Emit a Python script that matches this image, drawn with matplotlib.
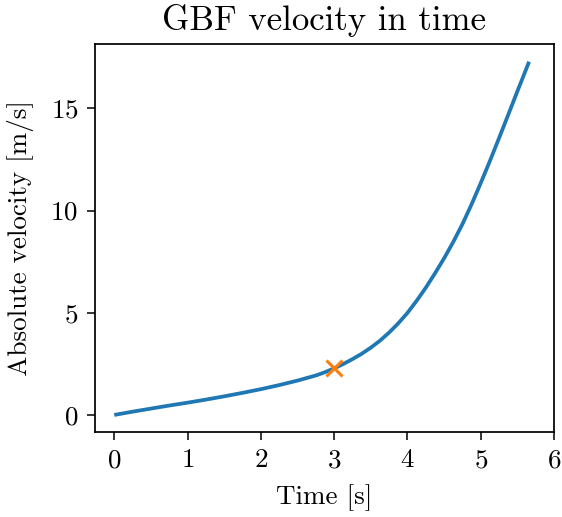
import matplotlib
matplotlib.use("Agg")
import matplotlib.pyplot as plt

plt.rcParams['font.family'] = 'serif'
plt.rcParams['font.serif'] = ['cmr10']
plt.rcParams['mathtext.fontset'] = 'cm'
plt.rcParams['axes.formatter.use_mathtext'] = True

time_s = [0.0, 0.25, 0.5, 0.75, 1.0, 1.25, 1.5, 1.75, 2.0, 2.25, 2.5, 2.75, 2.875, 3.0,
          3.125, 3.25, 3.375, 3.5, 3.625, 3.75, 3.875, 4.0, 4.125, 4.25, 4.375, 4.5,
          4.625, 4.75, 4.875, 5.0, 5.125, 5.25, 5.375, 5.5, 5.58, 5.66]
velocity = [0.0, 0.16, 0.31, 0.46, 0.60, 0.75, 0.91, 1.08, 1.26, 1.46, 1.68, 1.93, 2.09, 2.28,
            2.49, 2.73, 2.99, 3.29, 3.63, 4.03, 4.48, 4.99, 5.58, 6.22, 6.92, 7.66,
            8.46, 9.33, 10.30, 11.34, 12.42, 13.54, 14.68, 15.83, 16.55, 17.28]
marker_t = [3.0]
marker_v = [2.28]

fig = plt.figure(figsize=(5.62, 5.17), dpi=100)
ax = fig.add_axes([95/562, 1-431.7/517, (554-95)/562, (431.7-44.3)/517])
ax.plot(time_s, velocity, color='#1f77b4', lw=2.7, solid_capstyle='butt')
ax.plot(marker_t, marker_v, 'x', color='#ff7f0e', markersize=12, mew=2.2)
ax.set_xlim(-0.263, 6)
ax.set_ylim(-0.82, 18.13)
ax.set_xticks([0, 1, 2, 3, 4, 5, 6])
ax.set_yticks([0, 5, 10, 15])
for s in ax.spines.values():
    s.set_linewidth(1.25)
ax.tick_params(labelsize=19.5, length=6, width=1.1, pad=6)
ax.set_title('GBF velocity in time', fontsize=25, pad=10)
ax.set_xlabel('Time [s]', fontsize=19.5, labelpad=9)
ax.set_ylabel('Absolute velocity [m/s]', fontsize=19.5, labelpad=12)
fig.savefig('out.png', dpi=100)
